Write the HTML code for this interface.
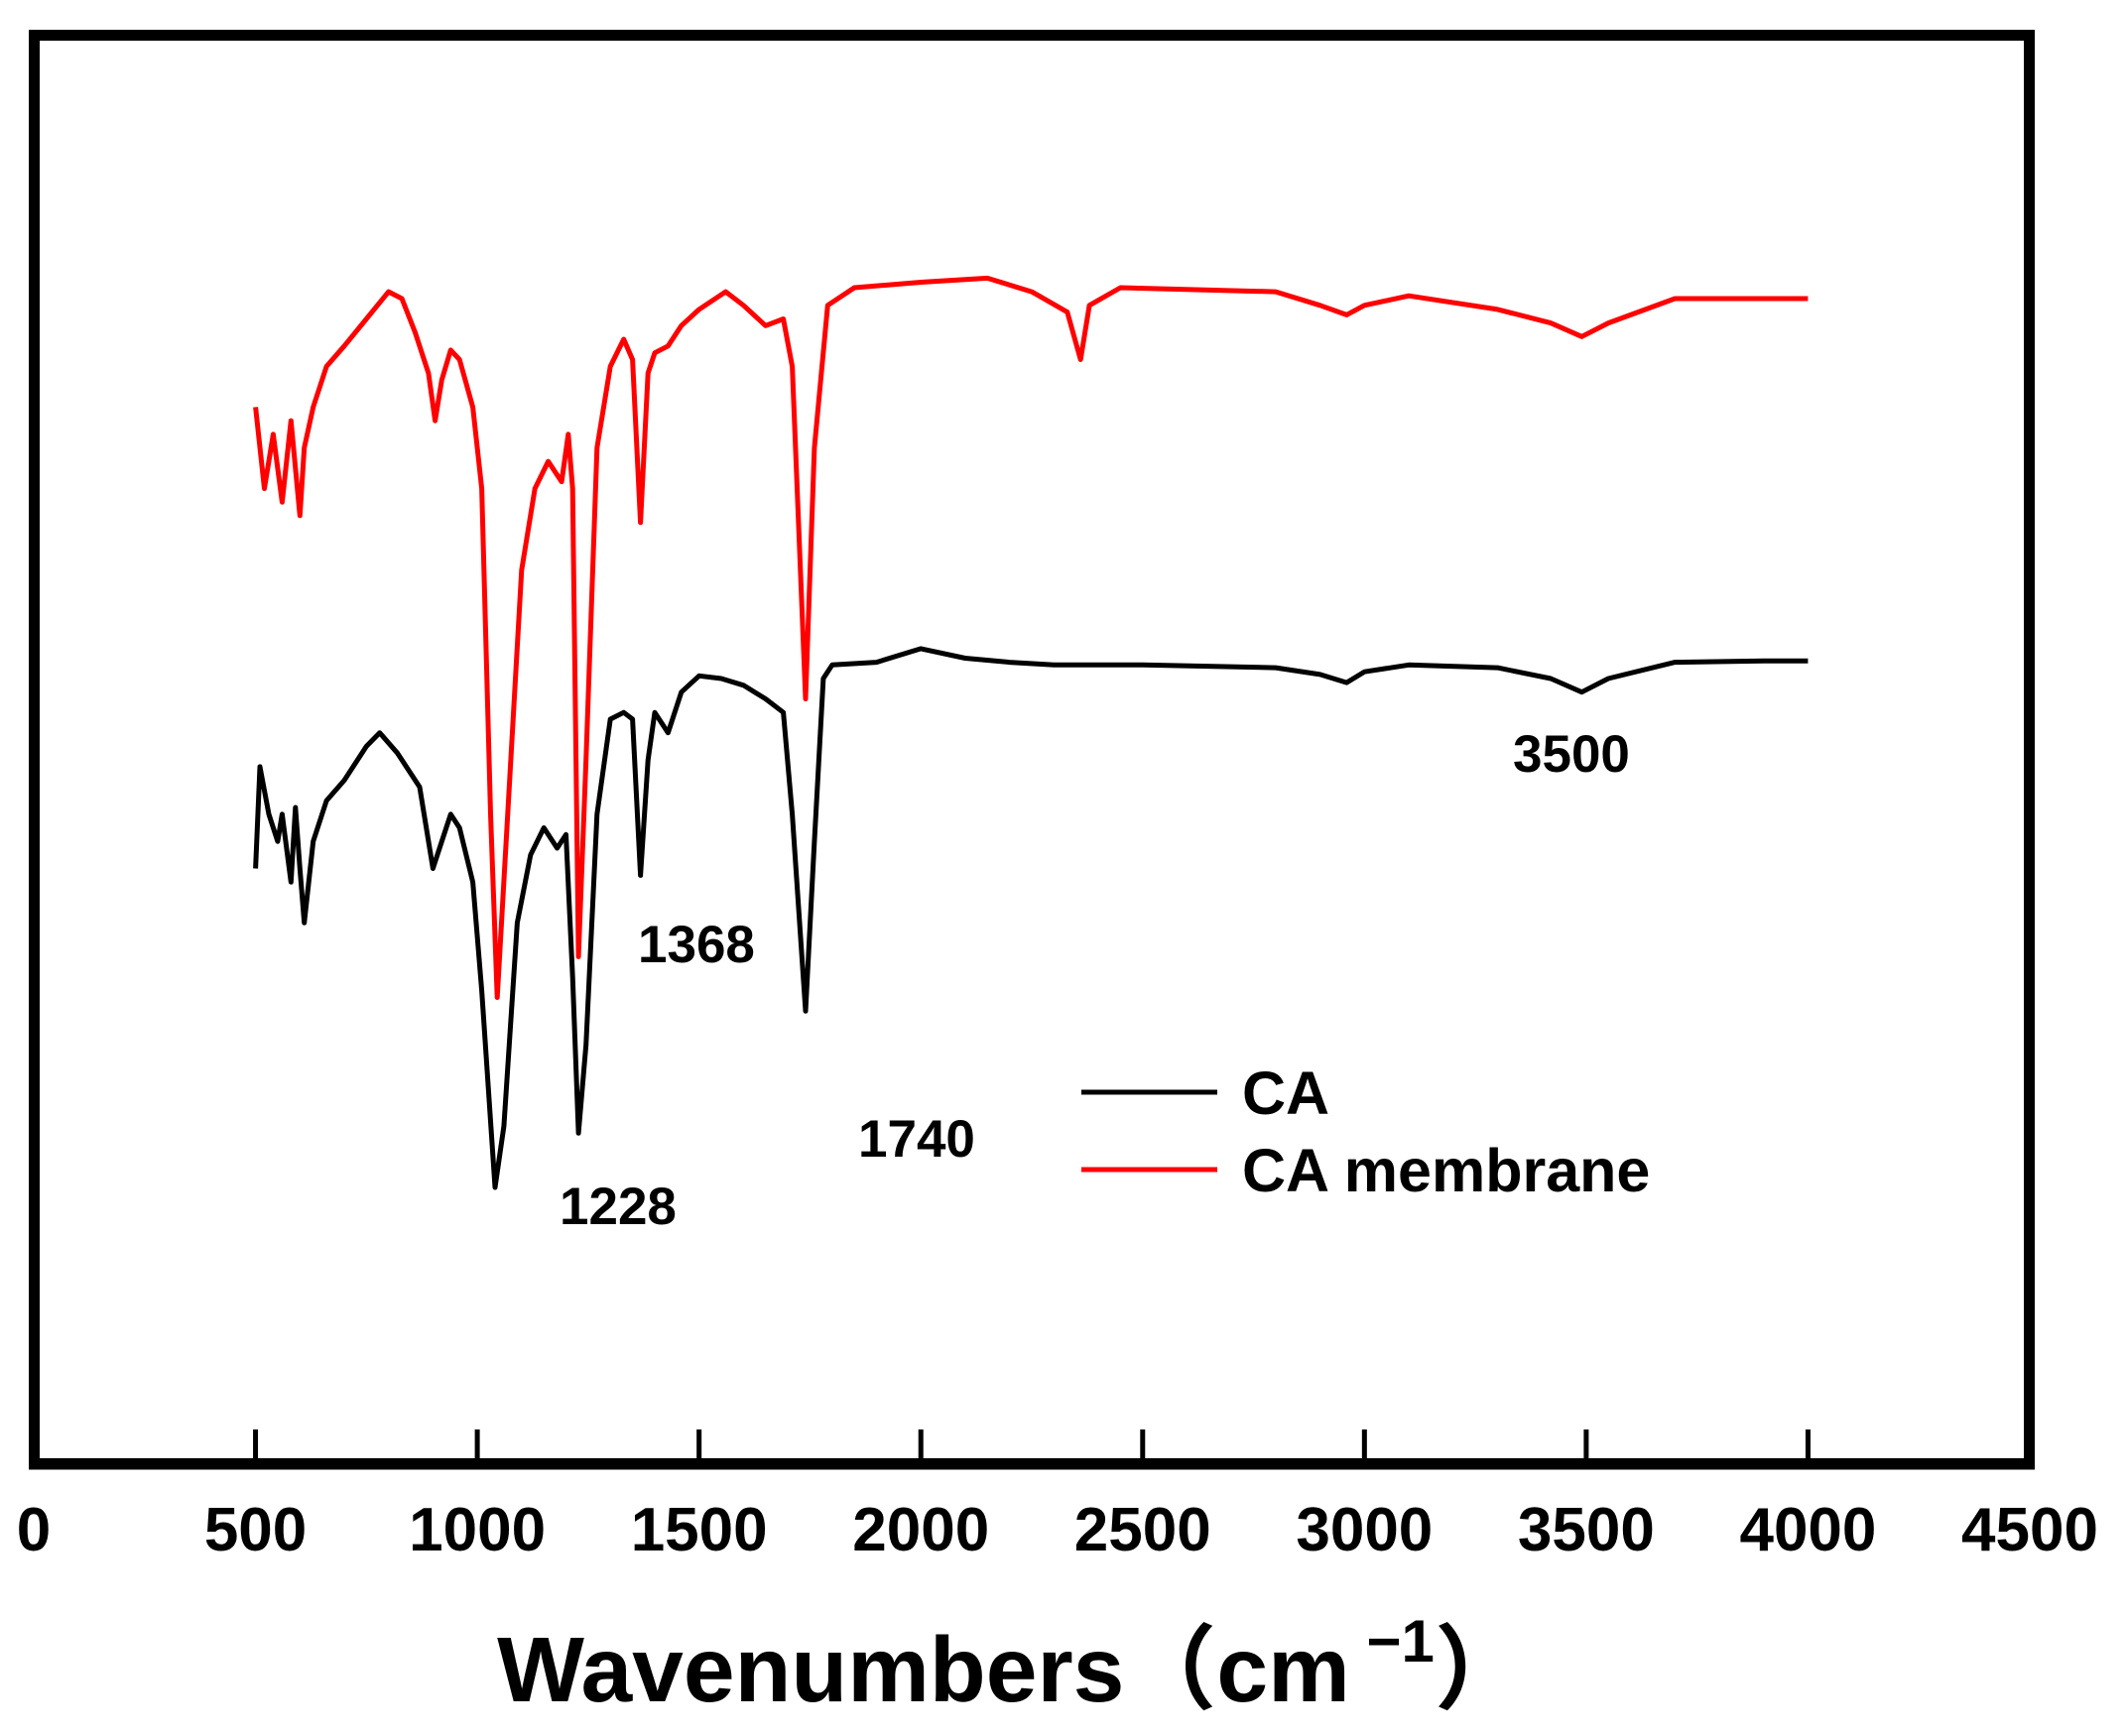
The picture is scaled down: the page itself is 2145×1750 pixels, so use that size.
<!DOCTYPE html>
<html><head><meta charset="utf-8"><style>
html,body{margin:0;padding:0;background:#fff;}
svg{display:block;}
text{font-family:"Liberation Sans","Noto Sans CJK SC",sans-serif;font-weight:bold;fill:#000;}
</style></head><body>
<svg id="chart" width="2145" height="1750" viewBox="0 0 2145 1750">
<rect x="34.5" y="35.5" width="2011" height="1440" fill="none" stroke="#000" stroke-width="11"/>
<line x1="29" y1="1476" x2="2051" y2="1476" stroke="#000" stroke-width="11"/>
<g id="ticks"></g>
<g id="tickLabels"></g>
<g id="series"></g>
<text x="1020" y="1715" font-size="93" text-anchor="middle">Wavenumbers（cm<tspan font-size="60" dy="-40"> −1</tspan><tspan dy="40">）</tspan></text>
<g id="annotations"></g>
<g>
<line x1="1090" y1="1101" x2="1227" y2="1101" stroke="#000" stroke-width="5"/>
<text x="1252" y="1123" font-size="61">CA</text>
<line x1="1090" y1="1179" x2="1227" y2="1179" stroke="#ff0000" stroke-width="5"/>
<text x="1252" y="1201" font-size="61">CA membrane</text>
</g>
</svg>
<script>
const tickValues = [0,500,1000,1500,2000,2500,3000,3500,4000,4500];
const tickLabels = ["0","500","1000","1500","2000","2500","3000","3500","4000","4500"];
const caWave = [500,510,530,550,560,580,590,600,610,630,660,700,750,780,820,870,900,920,940,960,990,1010,1040,1060,1090,1120,1150,1180,1200,1215,1228,1245,1270,1300,1330,1350,1368,1385,1400,1430,1460,1500,1550,1600,1650,1690,1710,1740,1760,1780,1800,1900,2000,2100,2200,2300,2500,2800,2900,2960,3000,3100,3300,3420,3490,3550,3700,3900,4000];
const caSignal = [460,535,500,480,500,450,505,460,420,480,510,525,550,560,545,520,460,480,500,490,450,370,225,270,420,470,490,475,485,380,265,330,500,570,575,570,455,540,575,560,590,602,600,595,585,575,500,355,480,600,610,612,622,615,612,610,610,608,603,597,605,610,608,600,590,600,612,613,613];
const memWave = [500,520,540,560,580,600,610,630,660,700,750,800,830,860,890,905,920,940,960,990,1010,1030,1045,1065,1100,1130,1160,1190,1205,1215,1228,1245,1270,1300,1330,1350,1368,1385,1400,1430,1460,1500,1560,1600,1650,1690,1710,1740,1760,1790,1850,2000,2150,2250,2330,2360,2380,2450,2800,2900,2960,3000,3100,3300,3420,3490,3550,3700,3900,4000];
const memSignal = [800,740,780,730,790,720,770,800,830,845,865,885,880,855,825,790,820,842,835,800,740,500,365,480,680,740,760,745,780,740,395,540,770,830,850,835,715,825,840,845,860,872,885,875,860,865,830,585,770,875,888,892,895,885,870,835,875,888,885,875,868,875,882,872,862,852,862,880,880,880];
const peakLabels = ["1368","3500","1228","1740"];
const NS="http://www.w3.org/2000/svg";
function xScale(w){return 34 + w/4500*2012;}
function yScale(v){return (1100 - v)*1.368;}
const tg=document.getElementById('ticks'), tl=document.getElementById('tickLabels');
tickValues.forEach((t,i)=>{
  if(t>0 && t<4500){
    const l=document.createElementNS(NS,'line');
    
    
    l.setAttribute('x1',xScale(t));l.setAttribute('x2',xScale(t));
    l.setAttribute('y1',1441);l.setAttribute('y2',1476);
    l.setAttribute('stroke','#000');l.setAttribute('stroke-width','5');
    tg.appendChild(l);
  }
  const tx=document.createElementNS(NS,'text');
  
  
  tx.setAttribute('x',xScale(t));tx.setAttribute('y',1563);
  tx.setAttribute('font-size','62');tx.setAttribute('text-anchor','middle');
  tx.textContent=tickLabels[i];
  tl.appendChild(tx);
});
function drawSeries(ws,vs,color,name){
  const p=document.createElementNS(NS,'path');
  
  
  p.setAttribute('d',ws.map((w,i)=>(i?'L':'M')+xScale(w).toFixed(1)+' '+yScale(vs[i]).toFixed(1)).join(' '));
  p.setAttribute('fill','none');p.setAttribute('stroke',color);
  p.setAttribute('stroke-width','5');p.setAttribute('stroke-linejoin','round');
  document.getElementById('series').appendChild(p);
}
drawSeries(caWave,caSignal,'#000','series-ca');
drawSeries(memWave,memSignal,'#ff0000','series-ca-membrane');
const ag=document.getElementById('annotations');
const offs={"1368":[643,970],"3500":[1525,778],"1228":[564,1234],"1740":[865,1166]};
peakLabels.forEach(p=>{
  const t=document.createElementNS(NS,'text');
  
  
  t.setAttribute('x',offs[p][0]);
  t.setAttribute('y',offs[p][1]);
  t.setAttribute('font-size','53');
  t.textContent=p;
  ag.appendChild(t);
});
</script>
</body></html>
